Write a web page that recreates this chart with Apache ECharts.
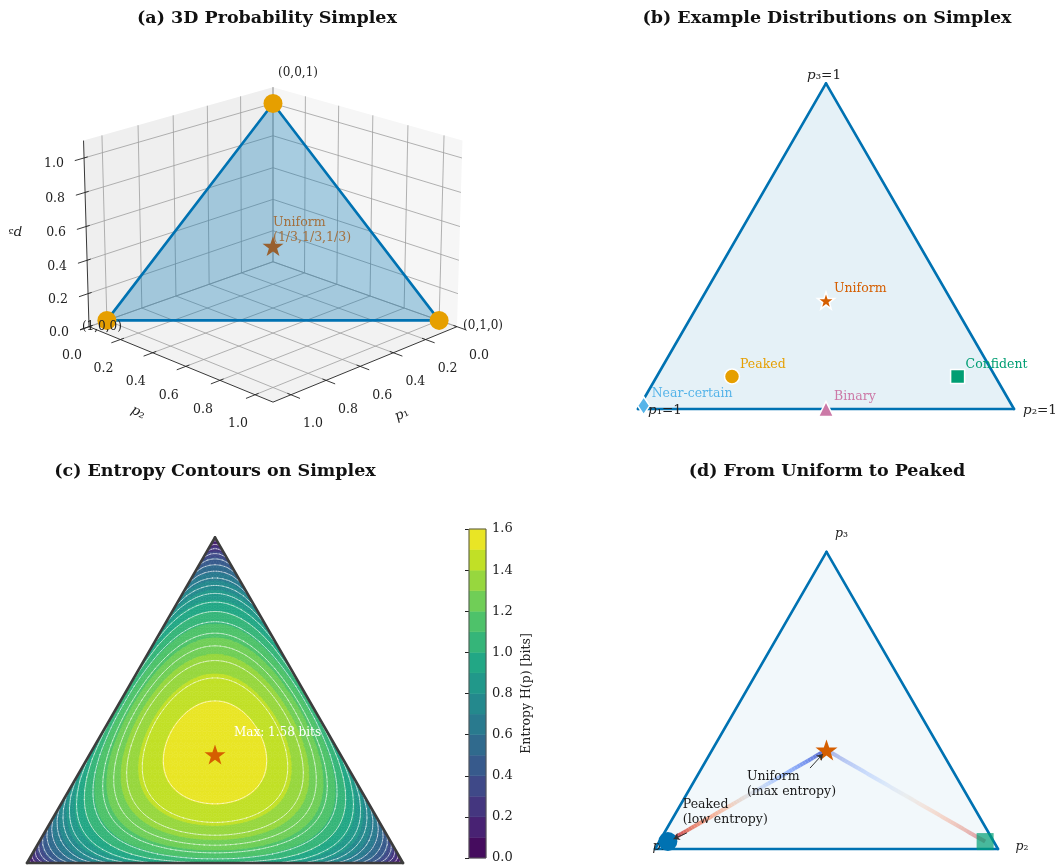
<!DOCTYPE html>
<html>
<head>
<meta charset="utf-8">
<script src="https://cdn.jsdelivr.net/npm/echarts@6/dist/echarts.min.js"></script>
<style>
  html, body { margin: 0; padding: 0; background: #ffffff; }
  #chart { width: 1060px; height: 865px; }
</style>
</head>
<body>
<div id="chart"></div>
<script>
// ---------------- data ----------------
// (a) 3D simplex
const vertexNames = ['(1,0,0)', '(0,1,0)', '(0,0,1)'];
const simplexVertices = [[1, 0, 0], [0, 1, 0], [0, 0, 1]];
const uniformDist = [1 / 3, 1 / 3, 1 / 3];
const uniformLabel = 'Uniform\n(1/3,1/3,1/3)';
const axisTicks3d = [0, 0.2, 0.4, 0.6, 0.8, 1.0];
const axisLimit3d = [0, 1.1];

// (b) example distributions (p1, p2, p3)
const exampleNames = ['Uniform', 'Peaked', 'Confident', 'Binary', 'Near-certain'];
const exampleDists = [
  [1 / 3, 1 / 3, 1 / 3],
  [0.7, 0.2, 0.1],
  [0.1, 0.8, 0.1],
  [0.5, 0.5, 0.0],
  [0.98, 0.01, 0.01]
];

// (c) entropy contours
const entropyFillLevels = [0, 0.1, 0.2, 0.3, 0.4, 0.5, 0.6, 0.7, 0.8, 0.9, 1.0, 1.1, 1.2, 1.3, 1.4, 1.5, 1.6];
const entropyLineLevels = [0.083, 0.167, 0.25, 0.334, 0.417, 0.5, 0.584, 0.667, 0.751, 0.834, 0.918, 1.001, 1.084, 1.168, 1.251, 1.335, 1.418, 1.502];
const colorbarTicks = [0, 0.2, 0.4, 0.6, 0.8, 1.0, 1.2, 1.4, 1.6];
const maxEntropyLabel = 'Max: 1.58 bits';

// (d) paths away from the uniform point
const pathStart = [1 / 3, 1 / 3, 1 / 3];
const peakedEnd = [0.95, 0.025, 0.025];
const confidentEnd = [0.025, 0.95, 0.025];
const uniformNote = 'Uniform\n(max entropy)';
const uniformNoteAt = [0.268, 0.232];
const peakedNote = 'Peaked\n(low entropy)';
const peakedNoteAt = [0.081, 0.151];

// ---------------- helpers ----------------
const FONT = '"DejaVu Serif", serif';
const SQ3 = Math.sqrt(3);
const STAR = 'path://M50,0 L61.8,35.1 L98.1,35.1 L68.8,56.7 L79.4,91 L50,70 L20.6,91 L31.2,56.7 L1.9,35.1 L38.2,35.1 Z';

function bary(p) { return [p[1] + 0.5 * p[2], p[2] * SQ3 / 2]; }
function entropyBits(p) { let h = 0; for (const v of p) if (v > 0) h -= v * Math.log2(v); return h; }

function hexRgb(h) { return [parseInt(h.slice(1, 3), 16), parseInt(h.slice(3, 5), 16), parseInt(h.slice(5, 7), 16)]; }
function rampColor(stops, t) {
  t = Math.max(0, Math.min(1, t));
  const f = t * (stops.length - 1), i = Math.min(stops.length - 2, Math.floor(f)), u = f - i;
  const a = stops[i], b = stops[i + 1];
  return 'rgb(' + a.map((v, k) => Math.round(v + (b[k] - v) * u)).join(',') + ')';
}
const VIRIDIS = ['#440154', '#482475', '#414487', '#355f8d', '#2a788e', '#21918c', '#22a884', '#44bf70', '#7ad151', '#bddf26', '#fde725'].map(hexRgb);
const COOLWARM = [[59, 76, 192], [98, 130, 234], [141, 176, 254], [184, 208, 249], [221, 221, 221], [245, 196, 173], [244, 154, 123], [222, 96, 77], [180, 4, 38]];

// perspective camera for the 3D panel (elev 20, azim 45, box aspect 4:4:3)
const BOX = (() => { const a = [4, 4, 3]; const n = Math.hypot(...a); return a.map(v => v * 1.8294640721620434 / n); })();
const ELEV = 20 * Math.PI / 180, AZIM = 45 * Math.PI / 180, DIST = 10;
const camDir = [Math.cos(ELEV) * Math.cos(AZIM), Math.cos(ELEV) * Math.sin(AZIM), Math.sin(ELEV)];
const camRight = [-Math.sin(AZIM), Math.cos(AZIM), 0];
const camUp = [
  camDir[1] * camRight[2] - camDir[2] * camRight[1],
  camDir[2] * camRight[0] - camDir[0] * camRight[2],
  camDir[0] * camRight[1] - camDir[1] * camRight[0]
];
const eye = BOX.map((b, i) => b / 2 + DIST * camDir[i]);
function dot(a, b) { return a[0] * b[0] + a[1] * b[1] + a[2] * b[2]; }
function project(p) {
  const span = axisLimit3d[1] - axisLimit3d[0];
  const d = p.map((v, i) => (v - axisLimit3d[0]) / span * BOX[i] - eye[i]);
  const depth = -dot(d, camDir);
  return [dot(d, camRight) / depth, dot(d, camUp) / depth];
}

// grids and hidden value axes
const grids = [], xAxes = [], yAxes = [], series = [];
function addGrid(rect, xr, yr, yExtra) {
  const i = grids.length;
  grids.push({ left: rect[0], top: rect[1], width: rect[2], height: rect[3], show: false });
  xAxes.push({ type: 'value', gridIndex: i, min: xr[0], max: xr[1], show: false });
  yAxes.push(Object.assign({ type: 'value', gridIndex: i, min: yr[0], max: yr[1], show: false }, yExtra || {}));
  return i;
}
function simplexGrid(rect, origin, side) {
  return addGrid(rect,
    [(rect[0] - origin[0]) / side, (rect[0] + rect[2] - origin[0]) / side],
    [(origin[1] - rect[1] - rect[3]) / side, (origin[1] - rect[1]) / side]);
}

function polygons(gi, polys, z) {
  series.push({
    type: 'custom', xAxisIndex: gi, yAxisIndex: gi, z: z, silent: true, clip: false, progressive: 0,
    data: polys.map(p => p.pts[0]), encode: { x: 0, y: 1 },
    renderItem: (params, api) => {
      const p = polys[params.dataIndex];
      const style = { fill: p.fill || null };
      if (p.stroke) { style.stroke = p.stroke; style.lineWidth = p.lineWidth || 1; style.lineJoin = 'round'; }
      return { type: 'polygon', shape: { points: p.pts.map(q => api.coord(q)) }, style: style };
    }
  });
}
function segments(gi, segs, z) {
  series.push({
    type: 'custom', xAxisIndex: gi, yAxisIndex: gi, z: z, silent: true, clip: false, progressive: 0,
    data: segs.map(s => s.a), encode: { x: 0, y: 1 },
    renderItem: (params, api) => {
      const s = segs[params.dataIndex];
      const a = api.coord(s.a), b = api.coord(s.b);
      return {
        type: 'line', shape: { x1: a[0], y1: a[1], x2: b[0], y2: b[1] },
        style: { stroke: s.color, lineWidth: s.width, opacity: s.opacity == null ? 1 : s.opacity, lineCap: s.cap || 'butt' }
      };
    }
  });
}
function texts(gi, items, z) {
  series.push({
    type: 'custom', xAxisIndex: gi, yAxisIndex: gi, z: z || 20, silent: true, clip: false, progressive: 0,
    data: items.map(t => t.at), encode: { x: 0, y: 1 },
    renderItem: (params, api) => {
      const t = items[params.dataIndex];
      const c = api.coord(t.at);
      const style = {
        text: t.text, fill: t.color || '#222', fontSize: t.size || 12.5, fontFamily: FONT,
        fontStyle: t.italic ? 'italic' : 'normal', fontWeight: t.bold ? 'bold' : 'normal',
        align: t.align || 'center', verticalAlign: t.va || 'middle', opacity: t.opacity == null ? 1 : t.opacity
      };
      if (t.lineHeight) style.lineHeight = t.lineHeight;
      if (t.rich) style.rich = t.rich;
      return { type: 'text', x: c[0] + (t.dx || 0), y: c[1] + (t.dy || 0), rotation: t.rotate || 0, style: style };
    }
  });
}
function markers(gi, pts, opt, z) {
  series.push(Object.assign({
    type: 'scatter', xAxisIndex: gi, yAxisIndex: gi, z: z, silent: true, data: pts, symbolKeepAspect: true
  }, opt));
}
function mathRich(size, color) {
  return {
    i: { fontStyle: 'italic', fontFamily: FONT, fontSize: size, fill: color, color: color },
    n: { fontFamily: FONT, fontSize: size, fill: color, color: color }
  };
}

// ---------------- (a) 3D Probability Simplex ----------------
const S3 = 2310, O3 = [273, 235];
const gA = addGrid([0, 40, 530, 420],
  [(0 - O3[0]) / S3, (530 - O3[0]) / S3],
  [(O3[1] - 460) / S3, (O3[1] - 40) / S3]);
const L3 = axisLimit3d[1];

polygons(gA, [
  { pts: [[0, 0, 0], [L3, 0, 0], [L3, L3, 0], [0, L3, 0]].map(project), fill: '#f2f2f2' },
  { pts: [[0, 0, 0], [L3, 0, 0], [L3, 0, L3], [0, 0, L3]].map(project), fill: '#efefef' },
  { pts: [[0, 0, 0], [0, L3, 0], [0, L3, L3], [0, 0, L3]].map(project), fill: '#f6f6f6' }
], 1);

const gridSegs3d = [];
axisTicks3d.forEach(t => {
  [[[t, 0, 0], [t, L3, 0]], [[0, t, 0], [L3, t, 0]],
   [[t, 0, 0], [t, 0, L3]], [[0, 0, t], [L3, 0, t]],
   [[0, t, 0], [0, t, L3]], [[0, 0, t], [0, L3, t]]].forEach(s => {
    gridSegs3d.push({ a: project(s[0]), b: project(s[1]), color: '#9e9e9e', width: 0.8 });
  });
});
segments(gA, gridSegs3d, 2);

const axisSegs3d = [
  [[0, L3, 0], [L3, L3, 0]], [[L3, 0, 0], [L3, L3, 0]], [[L3, 0, 0], [L3, 0, L3]]
].map(s => ({ a: project(s[0]), b: project(s[1]), color: '#222', width: 0.9 }));
axisTicks3d.forEach(t => {
  axisSegs3d.push({ a: project([t, L3 - 0.02, 0]), b: project([t, L3 + 0.05, 0]), color: '#222', width: 0.9 });
  axisSegs3d.push({ a: project([L3 - 0.02, t, 0]), b: project([L3 + 0.05, t, 0]), color: '#222', width: 0.9 });
  axisSegs3d.push({ a: project([L3 - 0.02, 0, t]), b: project([L3 + 0.05, 0, t]), color: '#222', width: 0.9 });
});
segments(gA, axisSegs3d, 3);

polygons(gA, [{ pts: simplexVertices.map(project), fill: 'rgba(0,114,178,0.32)' }], 4);
segments(gA, simplexVertices.map((v, i) => ({
  a: project(v), b: project(simplexVertices[(i + 1) % 3]), color: '#0072b2', width: 2.6, cap: 'round'
})), 5);
markers(gA, [project(uniformDist)], { symbol: STAR, symbolSize: 21, itemStyle: { color: '#98602f', opacity: 1 } }, 6);
markers(gA, simplexVertices.map(project), { symbol: 'circle', symbolSize: 19, itemStyle: { color: '#e69f00', opacity: 1 } }, 7);

const textA = [];
axisTicks3d.forEach(t => {
  const s = t.toFixed(1);
  textA.push({ at: project([t, L3, 0]), text: s, dx: 22, dy: 29 });
  textA.push({ at: project([L3, t, 0]), text: s, dx: -17, dy: 29 });
  textA.push({ at: project([L3, 0, t]), text: s, dx: -30, dy: 6 });
});
textA.push({ at: project([0.5, L3, 0]), text: '{i|p}{n|₁}', rich: mathRich(13.5, '#222'), dx: 25, dy: 55, rotate: 0.45 });
textA.push({ at: project([L3, 0.5, 0]), text: '{i|p}{n|₂}', rich: mathRich(13.5, '#222'), dx: -31, dy: 53, rotate: -0.45 });
textA.push({ at: project([L3, 0, 0.55]), text: '{i|p}{n|₃}', rich: mathRich(13.5, '#222'), dx: -71, dy: -3, rotate: Math.PI });
textA.push({ at: project(simplexVertices[0]), text: vertexNames[0], dx: -5, dy: 6, size: 12 });
textA.push({ at: project(simplexVertices[1]), text: vertexNames[1], dx: 24, dy: 5, size: 12, align: 'left' });
textA.push({ at: project(simplexVertices[2]), text: vertexNames[2], dx: 25, dy: -31, size: 12 });
textA.push({ at: project(uniformDist), text: uniformLabel, dx: 0, dy: -31, size: 12.5, align: 'left', va: 'top', lineHeight: 15, color: '#a2703f' });
texts(gA, textA, 20);

// ---------------- (b) Example Distributions on Simplex ----------------
const gB = simplexGrid([560, 40, 500, 420], [638, 409], 376);
const triB = simplexVertices.map(bary);
polygons(gB, [{ pts: triB, fill: 'rgba(0,114,178,0.1)' }], 1);
segments(gB, triB.map((v, i) => ({ a: v, b: triB[(i + 1) % 3], color: '#0072b2', width: 2.6, cap: 'round' })), 2);

const exampleStyle = [
  { symbol: STAR, size: 17, color: '#d55e00' },
  { symbol: 'circle', size: 15, color: '#e69f00' },
  { symbol: 'rect', size: 14, color: '#009e73' },
  { symbol: 'triangle', size: 15, color: '#cc79a7' },
  { symbol: 'diamond', size: [12, 18], color: '#56b4e9' }
];
exampleDists.forEach((p, i) => {
  const st = exampleStyle[i];
  markers(gB, [bary(p)], {
    symbol: st.symbol, symbolSize: st.size, symbolKeepAspect: false,
    itemStyle: { color: st.color, borderColor: '#ffffff', borderWidth: 1.5, opacity: 1 }
  }, 5);
});
const textB = exampleDists.map((p, i) => ({
  at: bary(p), text: exampleNames[i], dx: 8, dy: -12, align: 'left', color: exampleStyle[i].color, size: 12.5
}));
textB.push({ at: triB[0], text: '{i|p}{n|₁=1}', rich: mathRich(13.5, '#222'), dx: 10, dy: 1, align: 'left' });
textB.push({ at: triB[1], text: '{i|p}{n|₂=1}', rich: mathRich(13.5, '#222'), dx: 9, dy: 1, align: 'left' });
textB.push({ at: triB[2], text: '{i|p}{n|₃=1}', rich: mathRich(13.5, '#222'), dx: -2, dy: -8 });
texts(gB, textB, 20);

// ---------------- (c) Entropy Contours on Simplex ----------------
const gC = simplexGrid([0, 490, 460, 375], [27, 863], 376);
const MESH = 72;
const nodeIndex = (i, j) => j * (MESH + 1) - (j * (j - 1)) / 2 + i;
const nodes = [];
for (let j = 0; j <= MESH; j++) {
  for (let i = 0; i <= MESH - j; i++) {
    const p = [(MESH - i - j) / MESH, i / MESH, j / MESH];
    const xy = bary(p);
    nodes.push([xy[0], xy[1], entropyBits(p)]);
  }
}
const tris = [];
for (let j = 0; j < MESH; j++) {
  for (let i = 0; i < MESH - j; i++) {
    tris.push([nodes[nodeIndex(i, j)], nodes[nodeIndex(i + 1, j)], nodes[nodeIndex(i, j + 1)]]);
    if (i + j < MESH - 1) tris.push([nodes[nodeIndex(i + 1, j)], nodes[nodeIndex(i + 1, j + 1)], nodes[nodeIndex(i, j + 1)]]);
  }
}
function clipPoly(poly, level, keepAbove) {
  const out = [];
  for (let k = 0; k < poly.length; k++) {
    const a = poly[k], b = poly[(k + 1) % poly.length];
    const ain = keepAbove ? a[2] >= level : a[2] <= level;
    const bin = keepAbove ? b[2] >= level : b[2] <= level;
    if (ain) out.push(a);
    if (ain !== bin) {
      const u = (level - a[2]) / (b[2] - a[2]);
      out.push([a[0] + (b[0] - a[0]) * u, a[1] + (b[1] - a[1]) * u, level]);
    }
  }
  return out;
}
const bandCount = entropyFillLevels.length - 1;
const bandColor = k => rampColor(VIRIDIS, (entropyFillLevels[k] + entropyFillLevels[k + 1]) / 2 / entropyFillLevels[bandCount]);
const fillPolys = [];
tris.forEach(tri => {
  const hs = tri.map(n => n[2]);
  const lo = Math.min(...hs), hi = Math.max(...hs);
  for (let k = 0; k < bandCount; k++) {
    const a = entropyFillLevels[k], b = entropyFillLevels[k + 1];
    if (hi < a || lo > b) continue;
    let poly = tri;
    if (lo < a) poly = clipPoly(poly, a, true);
    if (poly.length >= 3 && hi > b) poly = clipPoly(poly, b, false);
    if (poly.length >= 3) {
      const col = bandColor(k);
      fillPolys.push({ pts: poly.map(q => [q[0], q[1]]), fill: col, stroke: col, lineWidth: 0.6 });
    }
  }
});
polygons(gC, fillPolys, 1);

const contourSegs = [];
tris.forEach(tri => {
  entropyLineLevels.forEach(L => {
    const cross = [];
    for (let k = 0; k < 3; k++) {
      const a = tri[k], b = tri[(k + 1) % 3];
      if ((a[2] - L) * (b[2] - L) < 0) {
        const u = (L - a[2]) / (b[2] - a[2]);
        cross.push([a[0] + (b[0] - a[0]) * u, a[1] + (b[1] - a[1]) * u]);
      }
    }
    if (cross.length === 2) contourSegs.push({ a: cross[0], b: cross[1], color: '#ffffff', width: 0.8, opacity: 0.65, cap: 'round' });
  });
});
segments(gC, contourSegs, 2);

const triC = simplexVertices.map(bary);
segments(gC, triC.map((v, i) => ({ a: v, b: triC[(i + 1) % 3], color: '#3d3d3d', width: 2.6, cap: 'round' })), 3);
markers(gC, [bary(uniformDist)], { symbol: STAR, symbolSize: 21, itemStyle: { color: '#d55e00', opacity: 1 } }, 4);
texts(gC, [{ at: bary(uniformDist), text: maxEntropyLabel, dx: 19, dy: -22, align: 'left', color: '#ffffff', size: 12 }], 20);

// colorbar
const gCB = addGrid([469, 529, 17, 329], [0, 1], [0, 1.6], {
  show: true, position: 'right', interval: 0.2,
  axisLine: { show: false }, splitLine: { show: false },
  axisTick: { show: true, inside: true, length: 4, lineStyle: { color: '#222', width: 1 } },
  axisLabel: { show: true, margin: 6, fontFamily: FONT, fontSize: 13, color: '#222', formatter: v => colorbarTicks.includes(Math.round(v * 10) / 10) ? v.toFixed(1) : '' },
  name: 'Entropy H(p) [bits]', nameLocation: 'middle', nameRotate: 90, nameGap: 34,
  nameTextStyle: { fontFamily: FONT, fontSize: 12.5, color: '#222' }
});
polygons(gCB, entropyFillLevels.slice(0, -1).map((a, k) => ({
  pts: [[0, a], [1, a], [1, entropyFillLevels[k + 1]], [0, entropyFillLevels[k + 1]]], fill: bandColor(k), stroke: bandColor(k), lineWidth: 0.5
})), 1);
polygons(gCB, [{ pts: [[0, 0], [1, 0], [1, 1.6], [0, 1.6]], fill: null, stroke: '#555555', lineWidth: 1 }], 2);

// ---------------- (d) From Uniform to Peaked ----------------
const gD = simplexGrid([560, 490, 500, 375], [655, 849], 343);
const triD = simplexVertices.map(bary);
polygons(gD, [{ pts: triD, fill: 'rgba(0,114,178,0.05)' }], 1);
segments(gD, triD.map((v, i) => ({ a: v, b: triD[(i + 1) % 3], color: '#0072b2', width: 2.6, cap: 'round' })), 2);

function gradientPath(from, to, opacity) {
  const STEPS = 60, out = [];
  for (let s = 0; s < STEPS; s++) {
    const t0 = s / STEPS, t1 = (s + 1) / STEPS;
    const p0 = from.map((v, k) => v + (to[k] - v) * t0);
    const p1 = from.map((v, k) => v + (to[k] - v) * t1);
    out.push({ a: bary(p0), b: bary(p1), color: rampColor(COOLWARM, (t0 + t1) / 2), width: 4, opacity: opacity });
  }
  return out;
}
segments(gD, gradientPath(pathStart, peakedEnd, 0.85), 3);
segments(gD, gradientPath(pathStart, confidentEnd, 0.4), 3);

// vertex name p1 sits beneath the peaked marker
texts(gD, [{ at: triD[0], text: '{i|p}{n|₁}', rich: mathRich(12.5, '#222'), dx: 4, dy: -2 }], 4);

markers(gD, [bary(peakedEnd)], { symbol: 'circle', symbolSize: 19, itemStyle: { color: '#0072b2', opacity: 1 } }, 5);
markers(gD, [bary(confidentEnd)], { symbol: 'rect', symbolSize: 17, itemStyle: { color: '#009e73', opacity: 0.7 } }, 5);
markers(gD, [bary(pathStart)], { symbol: STAR, symbolSize: 22, itemStyle: { color: '#d55e00', opacity: 1 } }, 6);

function arrowTowards(tail, target, shrink) {
  return [tail, [target[0] + (tail[0] - target[0]) * shrink, target[1] + (tail[1] - target[1]) * shrink]];
}
const uniArrowTail = [uniformNoteAt[0] + 0.184, uniformNoteAt[1] + 0.004];
const peakArrowTail = [peakedNoteAt[0] + 0.012, peakedNoteAt[1] - 0.104];
series.push({
  type: 'lines', coordinateSystem: 'cartesian2d', xAxisIndex: gD, yAxisIndex: gD, z: 7, silent: true,
  symbol: ['none', 'arrow'], symbolSize: 6,
  lineStyle: { color: '#333333', width: 1, opacity: 1 },
  data: [
    { coords: arrowTowards(uniArrowTail, bary(pathStart), 0.22) },
    { coords: arrowTowards(peakArrowTail, bary(peakedEnd), 0.3) }
  ]
});
texts(gD, [
  { at: uniformNoteAt, text: uniformNote, align: 'left', va: 'top', lineHeight: 15, size: 12.5, color: '#1a1a1a' },
  { at: peakedNoteAt, text: peakedNote, align: 'left', va: 'top', lineHeight: 15, size: 12.5, color: '#1a1a1a' },
  { at: triD[1], text: '{i|p}{n|₂}', rich: mathRich(12.5, '#222'), dx: 24, dy: -2 },
  { at: triD[2], text: '{i|p}{n|₃}', rich: mathRich(12.5, '#222'), dx: 15, dy: -18 }
], 20);

// ---------------- titles ----------------
const titleDefs = [
  ['(a) 3D Probability Simplex', 267, 18],
  ['(b) Example Distributions on Simplex', 827, 18],
  ['(c) Entropy Contours on Simplex', 215, 471],
  ['(d) From Uniform to Peaked', 827, 471]
];
const graphic = titleDefs.map(t => ({
  type: 'text', x: t[1], y: t[2], silent: true,
  style: {
    text: t[0], fill: '#111', font: 'bold 17.5px "DejaVu Serif", serif',
    textAlign: 'center', textVerticalAlign: 'middle', align: 'center', verticalAlign: 'middle'
  }
}));

const chart = echarts.init(document.getElementById('chart'), null, { renderer: 'canvas' });
chart.setOption({
  animation: false,
  backgroundColor: '#ffffff',
  grid: grids, xAxis: xAxes, yAxis: yAxes,
  series: series,
  graphic: graphic
});
</script>
</body>
</html>
